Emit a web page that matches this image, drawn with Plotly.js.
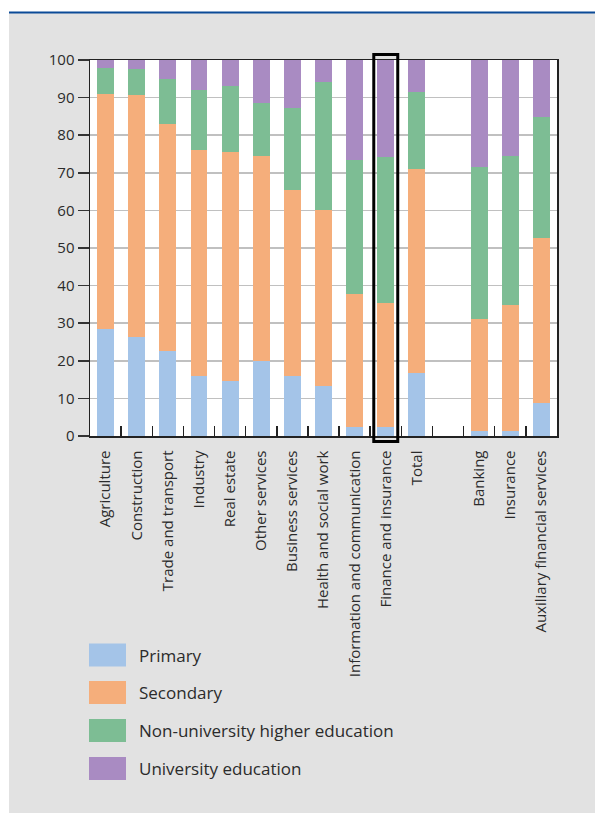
<!DOCTYPE html>
<html>
<head>
<meta charset="utf-8">
<script src="https://cdn.plot.ly/plotly-3.0.1.min.js"></script>
<style>
  html, body { margin: 0; padding: 0; background: #ffffff; }
  #chart { width: 595px; height: 813px; }
</style>
</head>
<body>
<div id="chart"></div>
<script>
// Sectors (left group) and financial sub-sectors (right group)
const sectors = [
  "Agriculture", "Construction", "Trade and transport", "Industry", "Real estate",
  "Other services", "Business services", "Health and social work",
  "Information and communication", "Finance and insurance", "Total"
];
const financeSubsectors = ["Banking", "Insurance", "Auxiliary financial services"];

// Share of employees by education level (%)
const primary     = [28.5, 26.3, 22.5, 16.0, 14.6, 19.9, 16.0, 13.4, 2.5, 2.5, 16.8, 1.2, 1.2, 8.8];
const secondary   = [62.5, 64.4, 60.5, 60.1, 60.9, 54.6, 49.4, 46.7, 35.3, 32.9, 54.2, 29.9, 33.6, 43.9];
const nonUniHigher = [6.9, 6.9, 11.9, 15.9, 17.6, 14.1, 21.8, 34.1, 35.6, 38.8, 20.6, 40.4, 39.7, 32.1];
const university  = [2.1, 2.4, 5.1, 8.0, 6.9, 11.4, 12.8, 5.8, 26.6, 25.8, 8.4, 28.5, 25.5, 15.2];

const seriesNames = ["Primary", "Secondary", "Non-university higher education", "University education"];
const seriesColors = ["#a4c4e8", "#f5ae7b", "#7dbd94", "#a98bc2"];
const highlighted = "Finance and insurance";

// category slots: the two groups are separated by one empty slot
const gapLabel = " ";
const xCats = [...sectors, gapLabel, ...financeSubsectors];
function withGap(vals) {
  return [...vals.slice(0, sectors.length), null, ...vals.slice(sectors.length)];
}

const values = [primary, secondary, nonUniHigher, university];
const traces = values.map((v, i) => ({
  type: "bar",
  x: xCats,
  y: withGap(v),
  name: seriesNames[i],
  marker: { color: seriesColors[i], line: { width: 0 } },
  hoverinfo: "x+y+name",
  showlegend: false
}));

// plot area in page pixels
const W = 595, H = 813;
const plotL = 90, plotR = 557, plotT = 60, plotB = 436;
const pw = plotR - plotL, ph = plotB - plotT;
const px = p => (p - plotL) / pw;
const py = p => (plotB - p) / ph;

const shapes = [
  // white page margin strips around the grey panel
  { type: "rect", xref: "paper", yref: "paper", x0: px(0), x1: px(9), y0: py(H), y1: py(0),
    fillcolor: "#ffffff", line: { width: 0 }, layer: "below" },
  { type: "rect", xref: "paper", yref: "paper", x0: px(0), x1: px(W), y0: py(12), y1: py(0),
    fillcolor: "#ffffff", line: { width: 0 }, layer: "below" },
  // blue rule along the top of the panel
  { type: "line", xref: "paper", yref: "paper", x0: px(9), x1: px(W), y0: py(12.5), y1: py(12.5),
    line: { color: "#0b4a97", width: 2 }, layer: "below" }
];

// frame around the highlighted column
const hi = xCats.indexOf(highlighted);
shapes.push({
  type: "rect", xref: "x", yref: "paper",
  x0: hi - 0.385, x1: hi + 0.385, y0: py(441.5), y1: py(54.5),
  line: { color: "#000000", width: 3 }, fillcolor: "rgba(0,0,0,0)", layer: "above"
});

// legend built from swatches and labels
const annotations = [];
const legendRows = [655, 692.5, 730.5, 768.5];
seriesNames.forEach((name, i) => {
  const cy = legendRows[i];
  shapes.push({
    type: "rect", xref: "paper", yref: "paper",
    x0: px(89), x1: px(126), y0: py(cy + 11.5), y1: py(cy - 11.5),
    fillcolor: seriesColors[i], line: { width: 0 }
  });
  annotations.push({
    xref: "paper", yref: "paper", x: px(137), y: py(cy),
    xanchor: "left", yanchor: "middle", showarrow: false,
    text: name, font: { family: "Open Sans, sans-serif", size: 17, color: "#2b2b2b" }
  });
});

const layout = {
  width: W, height: H,
  margin: { l: plotL, r: W - plotR, t: plotT, b: H - plotB, pad: 0 },
  paper_bgcolor: "#e2e2e2",
  plot_bgcolor: "#ffffff",
  barmode: "stack",
  bargap: 0.46,
  font: { family: "Open Sans, sans-serif", size: 15, color: "#2b2b2b" },
  showlegend: false,
  xaxis: {
    type: "category",
    categoryorder: "array",
    categoryarray: xCats,
    tickson: "boundaries",
    ticks: "inside",
    ticklen: 10,
    tickwidth: 1.5,
    tickcolor: "#222",
    tickangle: -90,
    ticklabelstandoff: 7,
    tickfont: { size: 15, color: "#2b2b2b" },
    showline: true, linecolor: "#222", linewidth: 1.5, mirror: true,
    showgrid: false, zeroline: false,
    fixedrange: true
  },
  yaxis: {
    range: [0, 100],
    dtick: 10,
    ticks: "outside",
    ticklen: 11,
    tickwidth: 1.5,
    tickcolor: "#333",
    tickfont: { size: 15, color: "#2b2b2b" },
    showline: true, linecolor: "#222", linewidth: 1.5, mirror: true,
    showgrid: true, gridcolor: "#c0c0c0", gridwidth: 1.5,
    zeroline: false,
    fixedrange: true
  },
  shapes: shapes,
  annotations: annotations
};

Plotly.newPlot("chart", traces, layout, { displayModeBar: false, staticPlot: true });
</script>
</body>
</html>
